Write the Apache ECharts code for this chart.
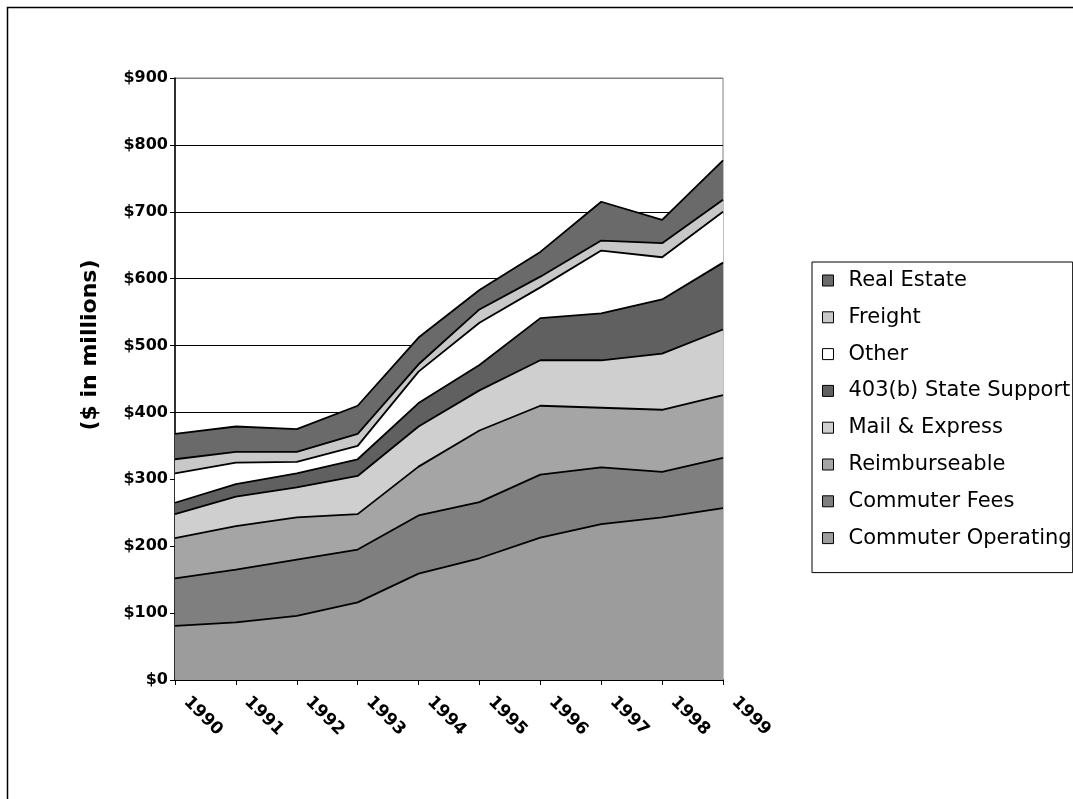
<!DOCTYPE html>
<html>
<head>
<meta charset="utf-8">
<script src="https://cdn.jsdelivr.net/npm/echarts@6/dist/echarts.min.js"></script>
<style>
html,body{margin:0;padding:0;background:#fff;}
#chart{width:1073px;height:799px;}
</style>
</head>
<body>
<div id="chart"></div>
<script>
var years = ['1990','1991','1992','1993','1994','1995','1996','1997','1998','1999'];
var commuterOperating = [81, 86, 96, 116, 159, 182, 213, 233, 243, 257];
var commuterFees      = [71, 79, 84, 79, 87, 84, 94, 85, 68, 75];
var reimburseable     = [60, 65, 63, 53, 73, 107, 103, 89, 93, 94];
var mailExpress       = [36, 44, 45, 57, 60, 60, 68, 71, 84, 98];
var stateSupport      = [17, 19, 21, 25, 35, 38, 63, 70, 81, 100];
var other             = [44, 32, 17, 20, 47, 63, 46, 94, 63, 76];
var freight           = [21, 16, 15, 18, 11, 20, 16, 15, 21, 18];
var realEstate        = [38, 38, 34, 42, 40, 29, 37, 58, 35, 59];
var yTicks = [0, 100, 200, 300, 400, 500, 600, 700, 800, 900];
var yTitle = '($ in millions)';

var FONT = 'DejaVu Sans, Liberation Sans, Arial, sans-serif';

var seriesDefs = [
  {name: 'Commuter Operating', data: commuterOperating, color: '#9c9c9c'},
  {name: 'Commuter Fees', data: commuterFees, color: '#7f7f7f'},
  {name: 'Reimburseable', data: reimburseable, color: '#a5a5a5'},
  {name: 'Mail & Express', data: mailExpress, color: '#cfcfcf'},
  {name: '403(b) State Support', data: stateSupport, color: '#606060'},
  {name: 'Other', data: other, color: '#ffffff'},
  {name: 'Freight', data: freight, color: '#c8c8c8'},
  {name: 'Real Estate', data: realEstate, color: '#6a6a6a'}
];

var chart = echarts.init(document.getElementById('chart'));
var splitColors = yTicks.map(function (v, i) { return i === yTicks.length - 1 ? '#808080' : '#000000'; });

chart.setOption({
  backgroundColor: '#ffffff',
  animation: false,
  graphic: [{
    type: 'rect',
    shape: {x: 7.5, y: 7.5, width: 1200, height: 1000},
    style: {fill: 'none', stroke: '#000', lineWidth: 1.5},
    silent: true, z: -10
  }, {
    type: 'text',
    x: 90, y: 345,
    rotation: Math.PI / 2,
    style: {
      text: yTitle,
      fill: '#000',
      font: 'bold 22px ' + FONT,
      align: 'center',
      verticalAlign: 'middle'
    },
    silent: true
  }],
  grid: {
    left: 175, top: 78, right: 350, bottom: 119,
    show: true, borderColor: '#808080', borderWidth: 1, backgroundColor: 'transparent'
  },
  legend: {
    orient: 'vertical',
    left: 812, top: 262,
    padding: [8, 1, 24, 10],
    itemGap: 15.8,
    itemWidth: 11, itemHeight: 11,
    icon: 'rect',
    borderColor: '#000', borderWidth: 1,
    itemStyle: {borderColor: '#000', borderWidth: 1},
    textStyle: {fontFamily: FONT, fontSize: 21, color: '#000', padding: [0, 0, 0, 10]},
    data: seriesDefs.slice().reverse().map(function (s) { return s.name; })
  },
  xAxis: {
    type: 'category',
    data: years,
    boundaryGap: false,
    axisLine: {lineStyle: {color: '#000', width: 1.5}},
    axisTick: {show: true, length: 5, inside: false, lineStyle: {color: '#000'}},
    axisLabel: {
      rotate: -45,
      margin: 8,
      padding: [0, 0, 0, 16],
      fontFamily: FONT, fontSize: 17, fontWeight: 'bold', color: '#000'
    },
    splitLine: {show: false}
  },
  yAxis: {
    type: 'value',
    min: 0, max: 900, interval: 100,
    axisLine: {show: true, lineStyle: {color: '#000', width: 1.5}},
    axisTick: {show: true, length: 5, inside: false, lineStyle: {color: '#000'}},
    axisLabel: {
      margin: 7,
      fontFamily: FONT, fontSize: 16, fontWeight: 'bold', color: '#000',
      formatter: function (v) { return '$' + v; }
    },
    splitLine: {show: true, lineStyle: {color: splitColors, width: 1.2}}
  },
  series: seriesDefs.map(function (s) {
    return {
      name: s.name,
      type: 'line',
      stack: 'total',
      data: s.data,
      symbol: 'none',
      showSymbol: false,
      lineStyle: {color: '#000', width: 1.8},
      itemStyle: {color: s.color},
      areaStyle: {color: s.color, opacity: 1}
    };
  })
});
</script>
</body>
</html>
